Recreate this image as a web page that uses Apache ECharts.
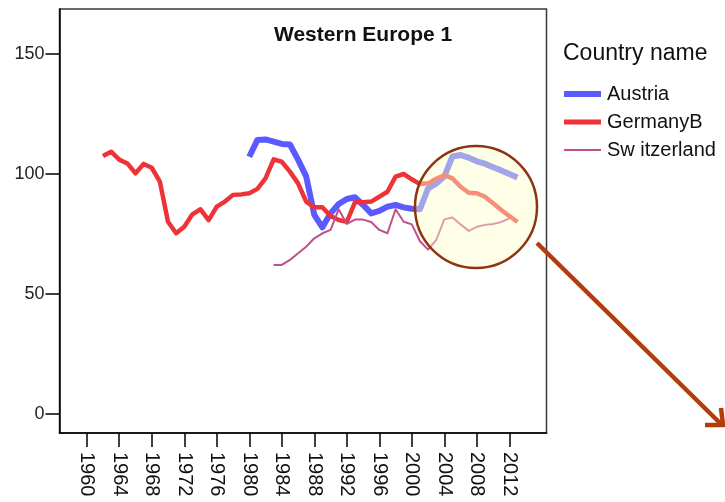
<!DOCTYPE html>
<html>
<head>
<meta charset="utf-8">
<script src="https://cdn.jsdelivr.net/npm/echarts@6/dist/echarts.min.js"></script>
<style>
  html, body { margin: 0; padding: 0; background: #fff; }
  #main { width: 725px; height: 502px; }
</style>
</head>
<body>
<div id="main"></div>
<script>
// data
const austriaYears = [1980, 1981, 1982, 1983, 1984, 1985, 1986, 1987, 1988, 1989, 1990, 1991, 1992, 1993, 1994, 1995, 1996,
  1997, 1998, 1999, 2000, 2001, 2002, 2003, 2004, 2005, 2006, 2007, 2008, 2009, 2010, 2011, 2012, 2013];
const austria = [107.2, 114.2, 114.4, 113.5, 112.5, 112.3, 106, 99, 83, 77.8, 83.6, 87.5, 89.6, 90.3, 87.1, 83.6, 84.6,
  86.4, 87.1, 86.1, 85.5, 85.3, 94, 96, 99, 107.3, 107.9, 106.8, 105.3, 104.3, 102.8, 101.5, 100, 98.5];

const germanyYears = [1962, 1963, 1964, 1965, 1966, 1967, 1968, 1969, 1970, 1971, 1972, 1973, 1974, 1975, 1976, 1977, 1978,
  1979, 1980, 1981, 1982, 1983, 1984, 1985, 1986, 1987, 1988, 1989, 1990, 1991, 1992, 1993, 1994, 1995, 1996, 1997,
  1998, 1999, 2000, 2001, 2002, 2003, 2004, 2005, 2006, 2007, 2008, 2009, 2010, 2011, 2012, 2013];
const germany = [107.5, 109.3, 106, 104.4, 100.3, 104.2, 102.6, 96.8, 80.1, 75.3, 78, 83.2, 85.3, 80.8, 86.4, 88.5, 91.3,
  91.5, 92, 93.8, 98.2, 106.1, 105.1, 101, 96.1, 88.5, 86.1, 86.1, 82.5, 80.8, 80.1, 88.2, 88.2, 88.5, 90.5, 92.6,
  98.9, 100, 97.8, 95.8, 96.1, 98, 99.5, 98.2, 94.7, 92.2, 92, 90.5, 87.8, 85, 82.5, 80];

const swissYears = [1983, 1984, 1985, 1986, 1987, 1988, 1989, 1990, 1991, 1992, 1993, 1994, 1995, 1996, 1997, 1998, 1999,
  2000, 2001, 2002, 2003, 2004, 2005, 2006, 2007, 2008, 2009, 2010, 2011, 2012];
const swiss = [62.1, 62.1, 64.2, 67, 69.7, 73.2, 75.3, 76.7, 85.3, 79.2, 81, 81, 80, 76.7, 75.3, 85.3, 80.1,
  79, 72, 68.5, 72.5, 81.1, 81.9, 79, 76.3, 78, 78.8, 79.2, 80, 81.5];

const xTicks = [1960, 1964, 1968, 1972, 1976, 1980, 1984, 1988, 1992, 1996, 2000, 2004, 2008, 2012];
const yTicks = [0, 50, 100, 150];

function pairs(years, vals) {
  return years.map((y, i) => [y, vals[i]]);
}

const chart = echarts.init(document.getElementById('main'));

const option = {
  animation: false,
  backgroundColor: '#fff',
  textStyle: { fontFamily: 'Liberation Sans, Arial, sans-serif' },
  grid: {
    left: 59.5, right: 178.5, top: 9, bottom: 69,
    show: true, borderColor: '#3a3a3a', borderWidth: 1.5, backgroundColor: '#fff'
  },
  title: {
    text: 'Western Europe 1',
    left: 269, top: 20,
    textStyle: { fontSize: 21, fontWeight: 'bold', color: '#111', fontFamily: 'Liberation Sans, Arial, sans-serif' }
  },
  legend: {
    orient: 'vertical',
    left: 564, top: 84, padding: 0,
    itemWidth: 37, itemHeight: 14, itemGap: 8,
    textStyle: { fontSize: 20, color: '#111', padding: [0, 0, 0, 1] },
    data: [
      { name: 'Austria', icon: 'path://M0,0h37v6h-37z' },
      { name: 'GermanyB', icon: 'path://M0,0h37v5h-37z' },
      { name: 'Switzerland', icon: 'path://M0,0h37v2h-37z' }
    ],
    formatter: function (n) { return n === 'Switzerland' ? 'Sw itzerland' : n; }
  },
  xAxis: {
    type: 'value',
    min: 1956.65, max: 2016.57,
    splitLine: { show: false },
    axisLine: { show: true, onZero: false, lineStyle: { color: '#000', width: 1.5 } },
    axisTick: { show: true, length: 14, customValues: xTicks, lineStyle: { color: '#000', width: 1.5 } },
    axisLabel: {
      customValues: xTicks, rotate: -90, margin: 19, fontSize: 20, color: '#111',
      formatter: function (v) { return String(v); }
    }
  },
  yAxis: {
    type: 'value',
    min: -7.92, max: 168.75,
    splitLine: { show: false },
    axisLine: { show: true, onZero: false, lineStyle: { color: '#000', width: 1.5 } },
    axisTick: { show: true, length: 14, customValues: yTicks, lineStyle: { color: '#000', width: 1.5 } },
    axisLabel: { customValues: yTicks, margin: 15, fontSize: 18, color: '#222' }
  },
  series: [
    {
      name: 'Austria', type: 'line', symbol: 'none',
      data: pairs(austriaYears, austria),
      itemStyle: { color: '#5a5aff' },
      lineStyle: { color: '#5a5aff', width: 6, join: 'round' }
    },
    {
      name: 'GermanyB', type: 'line', symbol: 'none',
      data: pairs(germanyYears, germany),
      itemStyle: { color: '#ee3338' },
      lineStyle: { color: '#ee3338', width: 4.5, join: 'round' }
    },
    {
      name: 'Switzerland', type: 'line', symbol: 'none',
      data: pairs(swissYears, swiss),
      itemStyle: { color: '#c0508c' },
      lineStyle: { color: '#c0508c', width: 2, join: 'round' }
    }
  ],
  graphic: [
    {
      type: 'text', left: 563, top: 42, z: 10,
      style: { text: 'Country name', fontSize: 23, fill: '#111', fontFamily: 'Liberation Sans, Arial, sans-serif' }
    },
    {
      type: 'circle', z: 50,
      shape: { cx: 476, cy: 207, r: 61 },
      style: { fill: 'rgba(255,255,205,0.45)', stroke: '#8e3412', lineWidth: 2.5 }
    },
    {
      type: 'polyline', z: 50,
      shape: { points: [[537, 243], [722, 425]] },
      style: { stroke: '#b23c0c', lineWidth: 4.5 }
    },
    {
      type: 'polyline', z: 50,
      shape: { points: [[705, 425], [723, 425], [721, 408]] },
      style: { stroke: '#b23c0c', lineWidth: 4.5, fill: null, lineJoin: 'miter' }
    }
  ]
};

chart.setOption(option);
</script>
</body>
</html>
